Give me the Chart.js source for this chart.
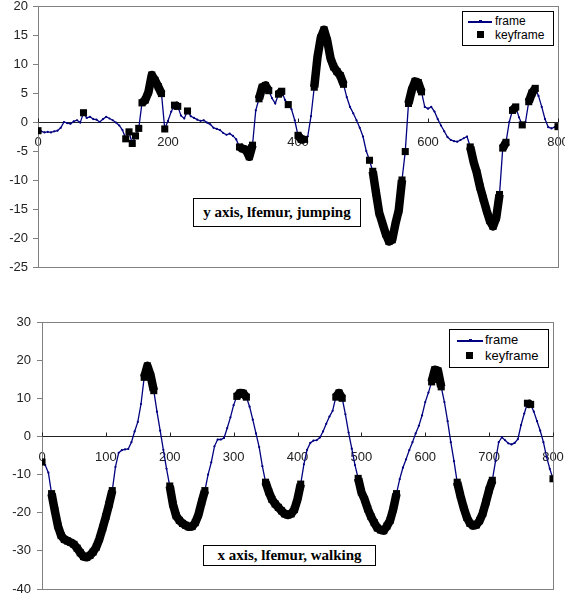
<!DOCTYPE html>
<html>
<head>
<meta charset="utf-8">
<script src="https://cdn.jsdelivr.net/npm/chart.js@4.4.1/dist/chart.umd.min.js"></script>
<style>
  body { margin: 0; background: #fff; width: 565px; height: 598px; overflow: hidden; position: relative; }
  .panel { position: absolute; left: 0; }
  .legend { position: absolute; border: 1px solid #000; background: #fff; font-family: "Liberation Sans", Arial, sans-serif; color: #000; box-sizing: border-box; }
  .legend .row { position: absolute; white-space: nowrap; }
  .legend .line { position: absolute; height: 2px; background: #000080; }
  .legend .dot { position: absolute; width: 3px; height: 3px; background: #000080; }
  .legend .sq { position: absolute; width: 7px; height: 7px; background: #000; }
  .note { position: absolute; border: 1px solid #000; background: #fff; box-sizing: border-box;
          font-family: "Liberation Serif", "Times New Roman", serif; font-weight: bold; font-size: 15px;
          text-align: center; color: #000; }
</style>
</head>
<body>
<div class="panel" style="top:-2px"><canvas id="jumpChart" width="565" height="292"></canvas></div>
<div class="panel" style="top:300px"><canvas id="walkChart" width="565" height="298"></canvas></div>

<div class="legend" style="left:462px; top:11px; width:92px; height:35px; font-size:12px;">
  <div class="line" style="left:5px; top:9px; width:24px;"></div>
  <div class="dot" style="left:16px; top:8px;"></div>
  <div class="row" style="left:32px; top:2px;">frame</div>
  <div class="sq" style="left:14px; top:19px;"></div>
  <div class="row" style="left:32px; top:16px;">keyframe</div>
</div>
<div class="legend" style="left:449px; top:329px; width:100px; height:39px; font-size:13px;">
  <div class="line" style="left:7px; top:10px; width:26px;"></div>
  <div class="dot" style="left:19px; top:9px;"></div>
  <div class="row" style="left:35px; top:2px;">frame</div>
  <div class="sq" style="left:16px; top:22px;"></div>
  <div class="row" style="left:35px; top:18px;">keyframe</div>
</div>

<div class="note" style="left:193px; top:198px; width:168px; height:29px; line-height:27px;">y axis, lfemur, jumping</div>
<div class="note" style="left:203px; top:545px; width:173px; height:21px; line-height:19px;">x axis, lfemur, walking</div>

<script>
// one value every FRAME_STEP frames, frame 0..800
const FRAME_STEP = 5;

const JUMP_Y = [
  -1.5, -1.6, -1.8, -1.7, -1.8, -1.6, -1.5, -1.0, 0.0, -0.2,
  -0.3, 0.1, 0.3, -0.1, 1.6, 0.7, 0.9, 0.5, 0.4, 0.0,
  0.5, 0.9, 0.6, 0.3, -0.1, -0.6, -1.4, -2.9, -1.7, -3.7,
  -2.4, -1.1, 3.3, 3.8, 5.2, 8.1, 7.2, 6.1, 4.9, -1.2,
  0.2, 1.8, 2.9, 2.7, 1.1, 0.6, 1.9, 1.0, 0.7, 0.4,
  0.2, 0.3, -0.1, -0.4, -1.0, -1.2, -1.4, -1.9, -2.2, -2.0,
  -2.4, -3.0, -4.3, -4.6, -4.8, -6.0, -4.0, 2.0, 4.0, 6.0,
  6.3, 5.4, 4.1, 3.2, 4.8, 5.3, 3.8, 3.0, 2.2, 0.3,
  -2.3, -3.0, -3.0, -2.5, 1.0, 6.0, 11.2, 14.5, 15.9, 14.0,
  11.0, 9.5, 8.7, 8.0, 6.5, 4.3, 2.6, 1.5, 0.3, -1.0,
  -2.5, -5.0, -6.6, -8.5, -12.2, -15.7, -17.5, -19.3, -20.6, -20.3,
  -17.5, -15.2, -10.0, -5.1, 3.2, 5.5, 7.0, 6.8, 5.2, 2.6,
  2.3, 2.6, 1.8, 0.5, -0.6, -1.6, -2.6, -3.1, -3.3, -3.4,
  -3.1, -2.8, -2.5, -4.3, -6.8, -8.7, -11.2, -13.2, -15.2, -17.0,
  -18.0, -16.5, -12.5, -4.5, -3.5, 0.0, 2.0, 2.6, 0.8, -0.5,
  0.0, 3.5, 5.0, 5.8, 4.5, 2.6, 0.5, -0.9, -1.1, -0.9,
  -0.8
];

const WALK_X = [
  -6.7, -7.5, -9.5, -15.0, -19.4, -23.5, -26.0, -27.0, -27.4, -27.8,
  -28.3, -29.3, -30.5, -31.5, -31.7, -31.2, -30.3, -29.0, -26.8, -24.0,
  -21.0, -17.8, -14.2, -8.0, -4.3, -3.6, -3.4, -3.3, -1.5, 1.3,
  3.8, 8.5, 15.5, 18.5, 16.0, 12.0, 6.5, 1.5, -3.5, -8.5,
  -13.0, -17.8, -20.8, -22.0, -22.8, -23.3, -23.7, -23.6, -22.6, -20.5,
  -17.2, -14.2, -10.0, -6.8, -2.6, -0.8, -0.8, -0.4, 2.2, 5.0,
  8.2, 10.5, 11.4, 11.3, 10.3, 7.8, 4.4, 0.8, -2.8, -7.8,
  -12.0, -14.5, -16.5, -17.7, -18.6, -19.5, -20.3, -20.6, -20.3, -19.2,
  -16.5, -12.5, -7.3, -3.5, -1.7, -1.1, -1.0, -0.3, 1.3, 3.3,
  5.2, 6.7, 10.3, 11.4, 10.0, 5.8, 1.0, -3.2, -7.5, -11.0,
  -14.6, -16.5, -19.0, -21.0, -22.6, -24.0, -24.5, -24.7, -23.5, -22.0,
  -19.0, -15.0, -11.2, -8.2, -6.0, -3.6, -1.5, 0.8, 2.8, 5.5,
  9.0, 11.5, 14.3, 17.5, 17.2, 13.0, 9.0, 4.0, -1.5, -6.5,
  -12.0, -15.5, -18.6, -21.2, -22.8, -23.4, -23.2, -22.1, -20.2, -17.2,
  -14.0, -11.5, -6.5, -1.5, -0.2, -1.0, -1.8, -2.1, -1.7, -0.7,
  3.0, 6.0, 8.7, 8.4, 6.5, 4.0, 1.5, -1.5, -5.4, -8.5,
  -11.1
];

// keyframes: runs of frames [first, last] that were picked as keys
const JUMP_KEYS = [
  [0, 0], [70, 70], [135, 135], [140, 140], [145, 145], [150, 150], [155, 155],
  [160, 190], [195, 195], [210, 215], [230, 230], [310, 330], [340, 355],
  [370, 375], [385, 385], [400, 410], [425, 470], [510, 510], [515, 560],
  [565, 565], [570, 590], [665, 710], [715, 720], [730, 735], [745, 745],
  [755, 765], [800, 800]
];
const WALK_KEYS = [
  [0, 0], [15, 110], [160, 175], [200, 255], [305, 320], [350, 405],
  [460, 470], [495, 555], [610, 625], [650, 705], [760, 765], [800, 800]
];

const JUMP_TICKS = { min: -25, max: 20, step: 5, xStep: 200 };
const WALK_TICKS = { min: -40, max: 30, step: 10, xStep: 100 };

const FONT = { family: '"Liberation Sans", Arial, sans-serif', size: 13 };

function framePoints(values) {
  return values.map((v, i) => ({ x: i * FRAME_STEP, y: v }));
}

function keyPoints(values, runs) {
  const pts = [];
  runs.forEach(([a, b]) => {
    for (let f = a; f <= b; f += FRAME_STEP) {
      pts.push({ x: f, y: values[f / FRAME_STEP] });
    }
    pts.push({ x: b + 1, y: null });
  });
  return pts;
}

// grey plot-area border plus the little tick marks sitting on the zero line
const plotFrame = {
  id: 'plotFrame',
  beforeDatasetsDraw(chart) {
    const { ctx, chartArea: a, scales: { x, y } } = chart;
    ctx.save();
    ctx.strokeStyle = '#808080';
    ctx.lineWidth = 1;
    ctx.strokeRect(Math.round(a.left) + 0.5, Math.round(a.top) + 0.5,
      Math.round(a.right - a.left), Math.round(a.bottom - a.top));
    const y0 = Math.round(y.getPixelForValue(0)) + 0.5;
    ctx.strokeStyle = '#222';
    x.ticks.forEach(t => {
      const px = Math.round(x.getPixelForValue(t.value)) + 0.5;
      ctx.beginPath();
      ctx.moveTo(px, y0 - 4);
      ctx.lineTo(px, y0);
      ctx.stroke();
    });
    ctx.restore();
  }
};

function drawChart(id, values, runs, ticks, axisWidth, padding, labelPad) {
  const ctx = document.getElementById(id).getContext('2d');
  return new Chart(ctx, {
    type: 'line',
    data: {
      datasets: [
        {
          label: 'keyframe',
          data: keyPoints(values, runs),
          borderColor: '#000',
          backgroundColor: '#000',
          borderWidth: 8.5,
          borderCapStyle: 'butt',
          borderJoinStyle: 'round',
          pointStyle: 'rect',
          pointRadius: 5,
          pointBorderWidth: 0,
          spanGaps: false,
          order: 0
        },
        {
          label: 'frame',
          data: framePoints(values),
          borderColor: '#000080',
          backgroundColor: '#000080',
          borderWidth: 1.3,
          pointRadius: 1.1,
          pointBorderWidth: 0,
          tension: 0,
          order: 1
        }
      ]
    },
    options: {
      responsive: false,
      animation: false,
      layout: { padding: padding },
      plugins: { legend: { display: false }, tooltip: { enabled: false } },
      scales: {
        x: {
          type: 'linear',
          position: { y: 0 },
          min: 0,
          max: 800,
          grid: { display: false, drawTicks: false },
          border: { color: '#222', width: 1 },
          ticks: { stepSize: ticks.xStep, padding: 13, color: '#222', font: FONT, maxRotation: 0 },
          afterFit(scale) { scale.paddingLeft = 0; scale.paddingRight = 0; }
        },
        y: {
          min: ticks.min,
          max: ticks.max,
          grid: { drawOnChartArea: false, color: '#808080', tickLength: 5 },
          border: { color: '#808080', width: 1 },
          ticks: { stepSize: ticks.step, padding: labelPad, color: '#222', font: FONT },
          afterFit(scale) {
            scale.width = axisWidth;
            scale.paddingTop = 0;
            scale.paddingBottom = 0;
          }
        }
      }
    },
    plugins: [plotFrame]
  });
}

drawChart('jumpChart', JUMP_Y, JUMP_KEYS, JUMP_TICKS, 38, { top: 8, right: 7, bottom: 23, left: 0 }, 5);
drawChart('walkChart', WALK_X, WALK_KEYS, WALK_TICKS, 42, { top: 22, right: 12, bottom: 9, left: 0 }, 6);
</script>
</body>
</html>
